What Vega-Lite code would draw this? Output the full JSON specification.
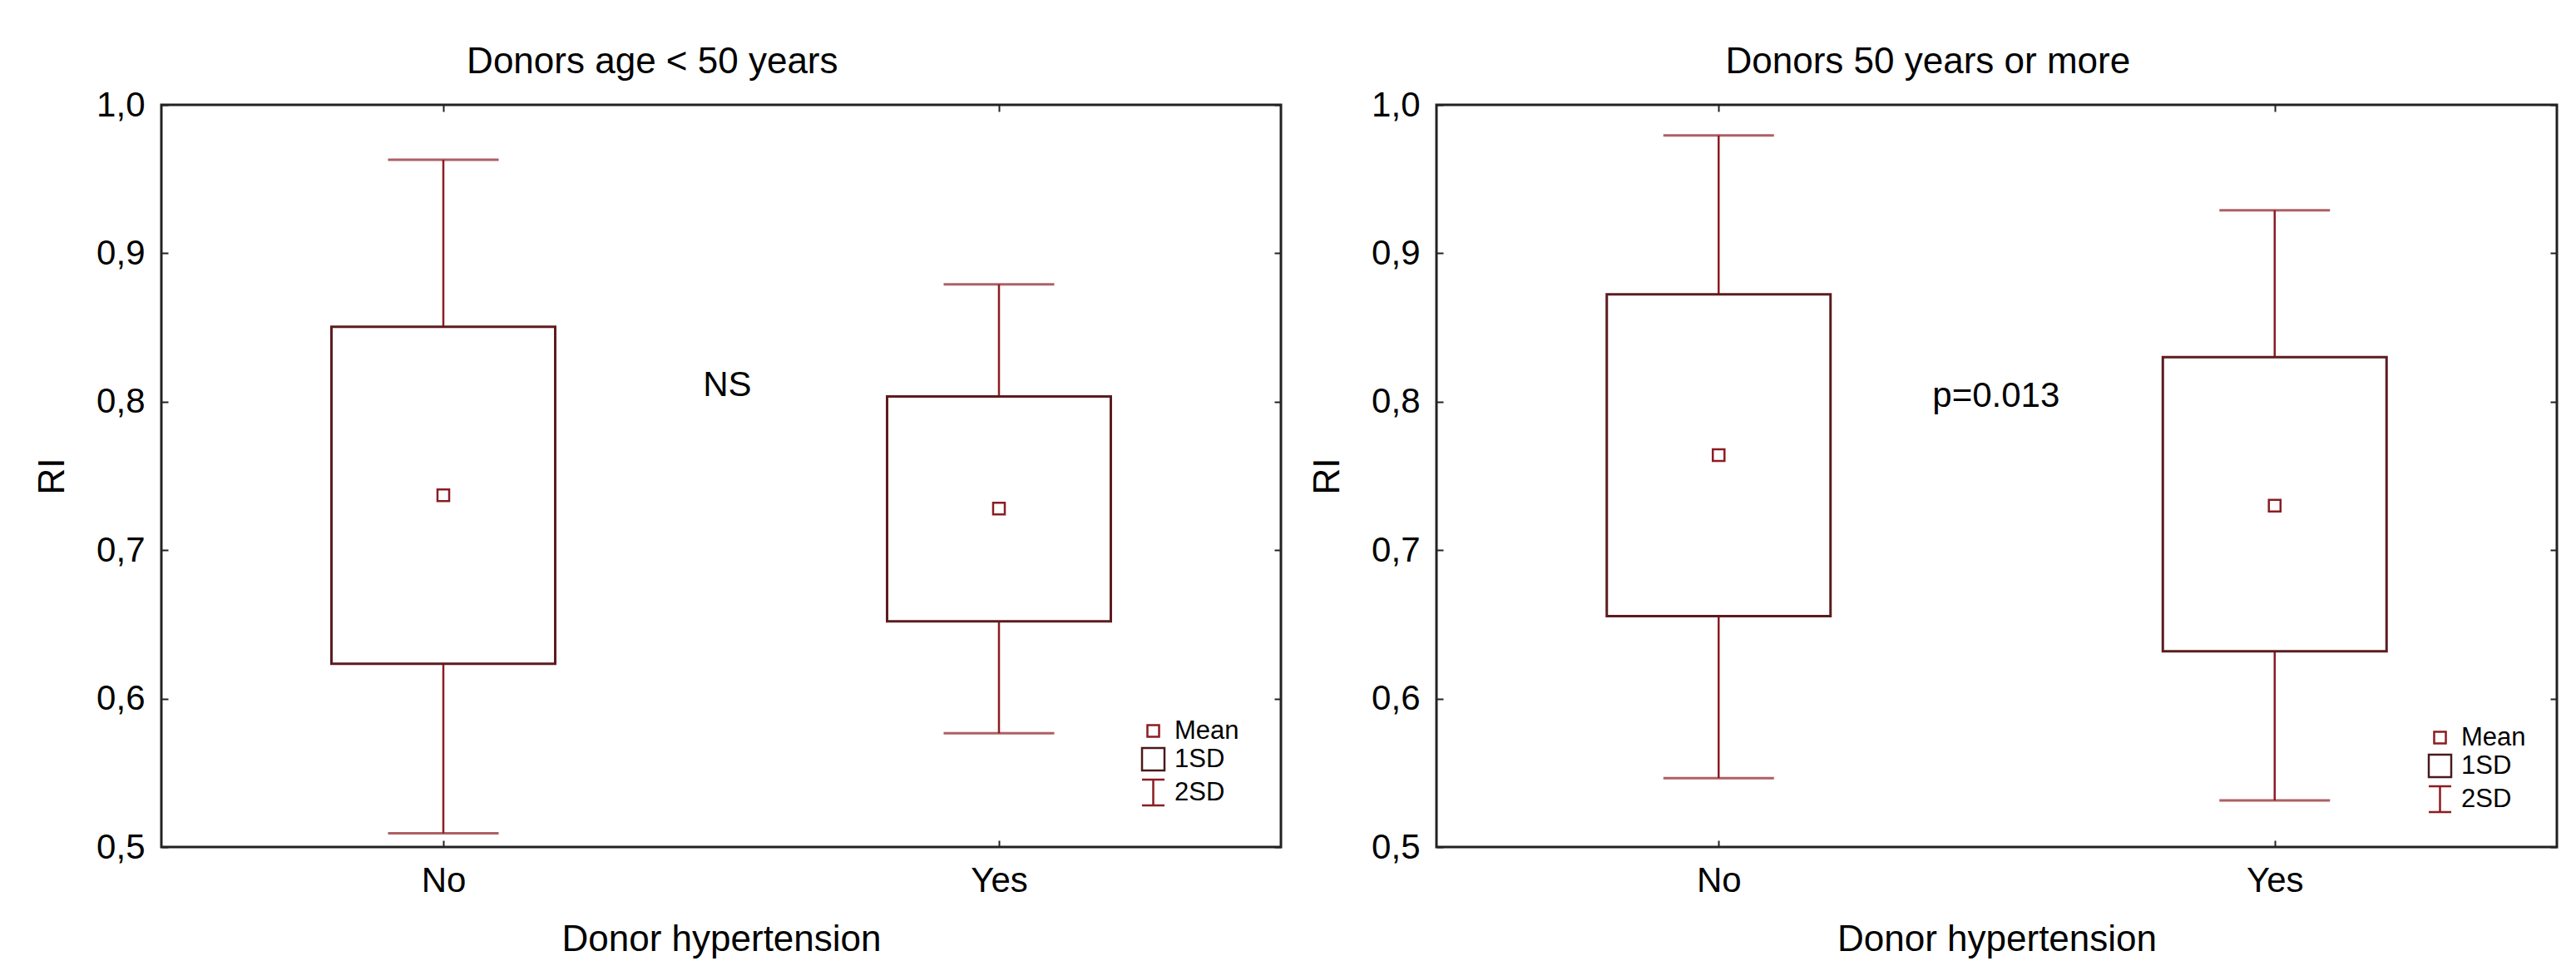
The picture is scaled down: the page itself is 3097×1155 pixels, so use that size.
{
  "$schema": "https://vega.github.io/schema/vega-lite/v6.json",
  "background": "white",
  "padding": {"left": 40, "top": 51, "right": 10, "bottom": 0},
  "spacing": 30,
  "datasets": {
    "left": [
      {"hyp": "No", "mean": 0.737, "lo1": 0.6234, "hi1": 0.8505, "lo2": 0.5093, "hi2": 0.963, "stat": "Mean"},
      {"hyp": "Yes", "mean": 0.728, "lo1": 0.652, "hi1": 0.8035, "lo2": 0.5766, "hi2": 0.879, "stat": "Mean"}
    ],
    "right": [
      {"hyp": "No", "mean": 0.764, "lo1": 0.6556, "hi1": 0.8723, "lo2": 0.5464, "hi2": 0.9794, "stat": "Mean"},
      {"hyp": "Yes", "mean": 0.730, "lo1": 0.6318, "hi1": 0.830, "lo2": 0.5314, "hi2": 0.929, "stat": "Mean"}
    ],
    "leftNote": [{"pos": 0.511, "val": 0.811, "label": "NS"}],
    "rightNote": [{"pos": 0.499, "val": 0.804, "label": "p=0.013"}]
  },
  "hconcat": [
    {
      "width": 1346,
      "height": 892,
      "title": {"text": "Donors age < 50 years"},
      "data": {"name": "left"},
      "transform": [{"calculate": "indexof(['No','Yes'], datum.hyp)", "as": "pos"}],
      "resolve": {"axis": {"x": "independent", "y": "independent"}},
      "layer": [
        {
          "mark": {"type": "rule", "color": "#8c1c22", "strokeWidth": 2.5},
          "encoding": {
            "x": {"field": "pos", "type": "quantitative", "scale": {"domain": [-0.5, 1.5], "nice": false, "zero": false},
                  "axis": {"orient": "bottom", "values": [0, 1], "labelExpr": "datum.value == 0 ? 'No' : 'Yes'", "title": "Donor hypertension", "titlePadding": 28}},
            "y": {"field": "lo2", "type": "quantitative", "scale": {"domain": [0.5, 1.0], "nice": false, "zero": false},
                  "axis": {"orient": "left", "values": [0.5, 0.6, 0.7, 0.8, 0.9, 1.0], "labelExpr": "replace(format(datum.value, '.1f'), '.', ',')", "title": "RI", "titlePadding": 30}},
            "y2": {"field": "hi2"}
          }
        },
        {
          "transform": [{"fold": ["lo2", "hi2"], "as": ["which", "v"]}],
          "mark": {"type": "tick", "orient": "horizontal", "color": "#8c1c22", "size": 133, "thickness": 3},
          "encoding": {
            "x": {"field": "pos", "type": "quantitative", "axis": null},
            "y": {"field": "v", "type": "quantitative", "axis": null}
          }
        },
        {
          "mark": {"type": "bar", "orient": "vertical", "size": 269, "fill": "white", "stroke": "#5c1c20", "strokeWidth": 3},
          "encoding": {
            "x": {"field": "pos", "type": "quantitative",
                  "axis": {"orient": "top", "values": [0, 1], "labels": false, "title": null}},
            "y": {"field": "lo1", "type": "quantitative",
                  "axis": {"orient": "right", "values": [0.5, 0.6, 0.7, 0.8, 0.9, 1.0], "labels": false, "title": null}},
            "y2": {"field": "hi1"}
          }
        },
        {
          "mark": {"type": "point", "filled": false, "size": 729, "strokeWidth": 2.5, "opacity": 1},
          "encoding": {
            "x": {"field": "pos", "type": "quantitative", "axis": null},
            "y": {"field": "mean", "type": "quantitative", "axis": null},
            "shape": {"field": "stat", "type": "nominal",
                      "scale": {"domain": ["Mean", "1SD", "2SD"], "range": ["M-0.52,-0.52H0.52V0.52H-0.52Z", "M-1,-1H1V1H-1Z", "M-1,-1.15H1M0,-1.15V1.15M-1,1.15H1"]},
                      "legend": {"orient": "none", "legendX": 1177, "legendY": 737}},
            "stroke": {"field": "stat", "type": "nominal",
                       "scale": {"domain": ["Mean", "1SD", "2SD"], "range": ["#8c1c22", "#4a1a1c", "#8c1c22"]},
                       "legend": {"orient": "none", "legendX": 1177, "legendY": 737}}
          }
        },
        {
          "data": {"name": "leftNote"},
          "mark": {"type": "text", "fontSize": 42, "color": "#000", "baseline": "middle", "align": "center"},
          "encoding": {
            "x": {"field": "pos", "type": "quantitative", "axis": null},
            "y": {"field": "val", "type": "quantitative", "axis": null},
            "text": {"field": "label"}
          }
        }
      ]
    },
    {
      "width": 1347,
      "height": 892,
      "title": {"text": "Donors 50 years or more"},
      "data": {"name": "right"},
      "transform": [{"calculate": "indexof(['No','Yes'], datum.hyp)", "as": "pos"}],
      "resolve": {"axis": {"x": "independent", "y": "independent"}},
      "layer": [
        {
          "mark": {"type": "rule", "color": "#8c1c22", "strokeWidth": 2.5},
          "encoding": {
            "x": {"field": "pos", "type": "quantitative", "scale": {"domain": [-0.5, 1.5], "nice": false, "zero": false},
                  "axis": {"orient": "bottom", "values": [0, 1], "labelExpr": "datum.value == 0 ? 'No' : 'Yes'", "title": "Donor hypertension", "titlePadding": 28}},
            "y": {"field": "lo2", "type": "quantitative", "scale": {"domain": [0.5, 1.0], "nice": false, "zero": false},
                  "axis": {"orient": "left", "values": [0.5, 0.6, 0.7, 0.8, 0.9, 1.0], "labelExpr": "replace(format(datum.value, '.1f'), '.', ',')", "title": "RI", "titlePadding": 30}},
            "y2": {"field": "hi2"}
          }
        },
        {
          "transform": [{"fold": ["lo2", "hi2"], "as": ["which", "v"]}],
          "mark": {"type": "tick", "orient": "horizontal", "color": "#8c1c22", "size": 133, "thickness": 3},
          "encoding": {
            "x": {"field": "pos", "type": "quantitative", "axis": null},
            "y": {"field": "v", "type": "quantitative", "axis": null}
          }
        },
        {
          "mark": {"type": "bar", "orient": "vertical", "size": 269, "fill": "white", "stroke": "#5c1c20", "strokeWidth": 3},
          "encoding": {
            "x": {"field": "pos", "type": "quantitative",
                  "axis": {"orient": "top", "values": [0, 1], "labels": false, "title": null}},
            "y": {"field": "lo1", "type": "quantitative",
                  "axis": {"orient": "right", "values": [0.5, 0.6, 0.7, 0.8, 0.9, 1.0], "labels": false, "title": null}},
            "y2": {"field": "hi1"}
          }
        },
        {
          "mark": {"type": "point", "filled": false, "size": 729, "strokeWidth": 2.5, "opacity": 1},
          "encoding": {
            "x": {"field": "pos", "type": "quantitative", "axis": null},
            "y": {"field": "mean", "type": "quantitative", "axis": null},
            "shape": {"field": "stat", "type": "nominal",
                      "scale": {"domain": ["Mean", "1SD", "2SD"], "range": ["M-0.52,-0.52H0.52V0.52H-0.52Z", "M-1,-1H1V1H-1Z", "M-1,-1.15H1M0,-1.15V1.15M-1,1.15H1"]},
                      "legend": {"orient": "none", "legendX": 1191, "legendY": 745}},
            "stroke": {"field": "stat", "type": "nominal",
                       "scale": {"domain": ["Mean", "1SD", "2SD"], "range": ["#8c1c22", "#4a1a1c", "#8c1c22"]},
                       "legend": {"orient": "none", "legendX": 1191, "legendY": 745}}
          }
        },
        {
          "data": {"name": "rightNote"},
          "mark": {"type": "text", "fontSize": 42, "color": "#000", "baseline": "middle", "align": "center"},
          "encoding": {
            "x": {"field": "pos", "type": "quantitative", "axis": null},
            "y": {"field": "val", "type": "quantitative", "axis": null},
            "text": {"field": "label"}
          }
        }
      ]
    }
  ],
  "resolve": {"scale": {"shape": "independent", "stroke": "independent"}},
  "config": {
    "font": "Liberation Sans",
    "view": {"stroke": "#222", "strokeWidth": 3},
    "axis": {
      "domain": false, "grid": false,
      "labelFont": "Liberation Sans", "labelFontSize": 42, "labelColor": "#000",
      "labelFlush": false, "labelOverlap": false, "labelBound": false,
      "titleFont": "Liberation Sans", "titleFontSize": 44, "titleFontWeight": "normal", "titleColor": "#000",
      "tickColor": "#222", "tickSize": -8, "tickWidth": 2,
      "labelPadding": 28
    },
    "legend": {
      "title": null, "padding": 0,
      "labelFont": "Liberation Sans", "labelFontSize": 31, "labelColor": "#000", "labelOffset": 10,
      "symbolSize": 729, "symbolStrokeWidth": 2.5, "symbolFillColor": "transparent", "rowPadding": 0
    },
    "title": {
      "font": "Liberation Sans", "fontSize": 44, "fontWeight": "normal", "color": "#000",
      "anchor": "middle", "frame": "bounds", "offset": 8, "dx": -7
    }
  }
}
